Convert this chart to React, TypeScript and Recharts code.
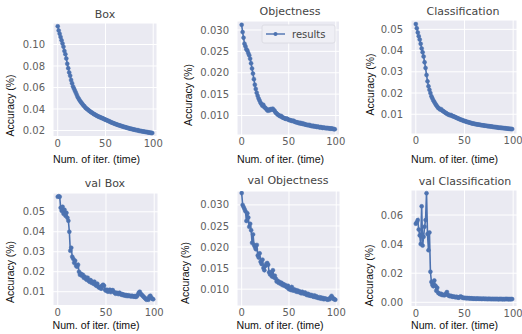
import React from 'react';
import { LineChart, Line, XAxis, YAxis, CartesianGrid } from 'recharts';

const epochs: number[] = Array.from({ length: 100 }, (_, i) => i);
const xTicks = [0, 50, 100];

const boxValues = [
  0.1170, 0.1130, 0.1100, 0.1070, 0.1040, 0.1010, 0.0980, 0.0940, 0.0910, 0.0870,
  0.0820, 0.0780, 0.0740, 0.0710, 0.0670, 0.0640, 0.0610, 0.0590, 0.0570, 0.0550,
  0.0530, 0.0510, 0.0495, 0.0480, 0.0468, 0.0455, 0.0445, 0.0432, 0.0425, 0.0412,
  0.0405, 0.0398, 0.0390, 0.0383, 0.0376, 0.0370, 0.0365, 0.0358, 0.0352, 0.0348,
  0.0342, 0.0338, 0.0332, 0.0328, 0.0325, 0.0320, 0.0316, 0.0314, 0.0308, 0.0305,
  0.0301, 0.0297, 0.0293, 0.0289, 0.0285, 0.0280, 0.0276, 0.0272, 0.0269, 0.0265,
  0.0262, 0.0258, 0.0255, 0.0252, 0.0249, 0.0246, 0.0244, 0.0240, 0.0238, 0.0235,
  0.0232, 0.0229, 0.0227, 0.0224, 0.0222, 0.0219, 0.0217, 0.0215, 0.0213, 0.0210,
  0.0208, 0.0206, 0.0204, 0.0202, 0.0203, 0.0197, 0.0196, 0.0195, 0.0193, 0.0191,
  0.0190, 0.0188, 0.0187, 0.0185, 0.0184, 0.0182, 0.0181, 0.0179, 0.0178, 0.0176,
];

const objectnessValues = [
  0.0312, 0.0295, 0.0282, 0.0268, 0.0262, 0.0255, 0.0252, 0.0246, 0.0241, 0.0233,
  0.0222, 0.0210, 0.0198, 0.0185, 0.0172, 0.0162, 0.0153, 0.0146, 0.0140, 0.0135,
  0.0130, 0.0127, 0.0123, 0.0125, 0.0120, 0.0118, 0.0116, 0.0113, 0.0111, 0.0114,
  0.0112, 0.0115, 0.0114, 0.0116, 0.0113, 0.0111, 0.0107, 0.0105, 0.0103, 0.0101,
  0.0100, 0.0098, 0.0099, 0.0096, 0.0095, 0.0094, 0.0093, 0.0092, 0.0093, 0.0091,
  0.0090, 0.0089, 0.0089, 0.0088, 0.0087, 0.0088, 0.0086, 0.0085, 0.0084, 0.0084,
  0.0083, 0.0082, 0.0083, 0.0081, 0.0082, 0.0080, 0.0081, 0.0079, 0.0079, 0.0078,
  0.0078, 0.0077, 0.0078, 0.0076, 0.0076, 0.0075, 0.0076, 0.0074, 0.0075, 0.0074,
  0.0073, 0.0074, 0.0073, 0.0072, 0.0073, 0.0072, 0.0071, 0.0072, 0.0071, 0.0071,
  0.0070, 0.0071, 0.0070, 0.0070, 0.0069, 0.0070, 0.0069, 0.0069, 0.0068, 0.0068,
];

const classificationValues = [
  0.0525, 0.0505, 0.0485, 0.0468, 0.0452, 0.0432, 0.0410, 0.0392, 0.0372, 0.0345,
  0.0318, 0.0285, 0.0255, 0.0232, 0.0215, 0.0200, 0.0185, 0.0175, 0.0165, 0.0158,
  0.0150, 0.0143, 0.0136, 0.0130, 0.0127, 0.0122, 0.0124, 0.0118, 0.0115, 0.0112,
  0.0108, 0.0106, 0.0102, 0.0100, 0.0098, 0.0095, 0.0097, 0.0093, 0.0091, 0.0089,
  0.0088, 0.0085, 0.0083, 0.0081, 0.0079, 0.0077, 0.0075, 0.0073, 0.0072, 0.0070,
  0.0068, 0.0067, 0.0065, 0.0064, 0.0062, 0.0061, 0.0060, 0.0058, 0.0057, 0.0056,
  0.0055, 0.0054, 0.0053, 0.0052, 0.0052, 0.0051, 0.0050, 0.0049, 0.0048, 0.0048,
  0.0047, 0.0046, 0.0046, 0.0045, 0.0044, 0.0044, 0.0043, 0.0042, 0.0042, 0.0041,
  0.0040, 0.0040, 0.0039, 0.0039, 0.0038, 0.0037, 0.0037, 0.0036, 0.0036, 0.0035,
  0.0035, 0.0034, 0.0034, 0.0033, 0.0033, 0.0032, 0.0032, 0.0031, 0.0031, 0.0030,
];

const valBoxValues = [
  0.0575, 0.0578, 0.0575, 0.0520, 0.0505, 0.0525, 0.0490, 0.0510, 0.0480, 0.0495,
  0.0470, 0.0455, 0.0400, 0.0305, 0.0320, 0.0275, 0.0265, 0.0245, 0.0255, 0.0230,
  0.0225, 0.0235, 0.0200, 0.0185, 0.0190, 0.0180, 0.0185, 0.0170, 0.0175, 0.0165,
  0.0160, 0.0170, 0.0155, 0.0150, 0.0158, 0.0145, 0.0150, 0.0140, 0.0150, 0.0135,
  0.0130, 0.0140, 0.0125, 0.0120, 0.0125, 0.0115, 0.0130, 0.0135, 0.0130, 0.0110,
  0.0105, 0.0110, 0.0100, 0.0105, 0.0110, 0.0098, 0.0105, 0.0108, 0.0100, 0.0095,
  0.0090, 0.0095, 0.0092, 0.0088, 0.0095, 0.0090, 0.0085, 0.0088, 0.0082, 0.0085,
  0.0080, 0.0083, 0.0078, 0.0082, 0.0078, 0.0080, 0.0076, 0.0080, 0.0077, 0.0075,
  0.0078, 0.0074, 0.0077, 0.0085, 0.0095, 0.0100, 0.0090, 0.0085, 0.0080, 0.0075,
  0.0070, 0.0065, 0.0060, 0.0065, 0.0060, 0.0075, 0.0080, 0.0070, 0.0065, 0.0062,
];

const valObjectnessValues = [
  0.0328, 0.0300, 0.0295, 0.0290, 0.0285, 0.0262, 0.0280, 0.0270, 0.0248, 0.0255,
  0.0240, 0.0210, 0.0230, 0.0205, 0.0200, 0.0195, 0.0205, 0.0180, 0.0175, 0.0185,
  0.0165, 0.0160, 0.0170, 0.0150, 0.0145, 0.0155, 0.0160, 0.0162, 0.0158, 0.0140,
  0.0135, 0.0140, 0.0130, 0.0145, 0.0128, 0.0132, 0.0125, 0.0118, 0.0120, 0.0115,
  0.0117, 0.0113, 0.0115, 0.0110, 0.0112, 0.0108, 0.0110, 0.0106, 0.0104, 0.0108,
  0.0100, 0.0103, 0.0098, 0.0105, 0.0097, 0.0100, 0.0096, 0.0098, 0.0094, 0.0097,
  0.0093, 0.0095, 0.0092, 0.0090, 0.0094, 0.0091, 0.0089, 0.0092, 0.0088, 0.0086,
  0.0089, 0.0085, 0.0087, 0.0084, 0.0086, 0.0083, 0.0082, 0.0085, 0.0081, 0.0083,
  0.0080, 0.0079, 0.0081, 0.0078, 0.0080, 0.0077, 0.0079, 0.0076, 0.0078, 0.0077,
  0.0076, 0.0075, 0.0077, 0.0076, 0.0080, 0.0084, 0.0080, 0.0077, 0.0076, 0.0075,
];

const valClassificationValues = [
  0.0540, 0.0550, 0.0565, 0.0500, 0.0460, 0.0400, 0.0660, 0.0390, 0.0450, 0.0520,
  0.0565, 0.0750, 0.0470, 0.0358, 0.0480, 0.0210, 0.0140, 0.0120, 0.0110, 0.0150,
  0.0115, 0.0080, 0.0100, 0.0065, 0.0060, 0.0055, 0.0058, 0.0050, 0.0052, 0.0048,
  0.0050, 0.0060, 0.0070, 0.0050, 0.0045, 0.0042, 0.0045, 0.0040, 0.0038, 0.0040,
  0.0036, 0.0035, 0.0038, 0.0033, 0.0032, 0.0035, 0.0040, 0.0036, 0.0032, 0.0030,
  0.0030, 0.0029, 0.0028, 0.0029, 0.0027, 0.0028, 0.0026, 0.0027, 0.0026, 0.0025,
  0.0026, 0.0025, 0.0024, 0.0026, 0.0025, 0.0024, 0.0025, 0.0024, 0.0023, 0.0025,
  0.0024, 0.0023, 0.0024, 0.0023, 0.0022, 0.0024, 0.0023, 0.0022, 0.0023, 0.0022,
  0.0023, 0.0022, 0.0022, 0.0023, 0.0022, 0.0021, 0.0022, 0.0023, 0.0022, 0.0021,
  0.0022, 0.0021, 0.0022, 0.0023, 0.0022, 0.0021, 0.0022, 0.0021, 0.0022, 0.0022,
];

const ticks2 = [0.02, 0.04, 0.06, 0.08, 0.1];
const ticks3 = [0.01, 0.015, 0.02, 0.025, 0.03];
const ticks1 = [0.01, 0.02, 0.03, 0.04, 0.05];
const ticks6 = [0, 0.02, 0.04, 0.06];

const titles = ['Box', 'Objectness', 'Classification', 'val Box', 'val Objectness', 'val Classification'];
const xLabel = 'Num. of iter. (time)';
const yLabel = 'Accuracy (%)';
const legendLabel = 'results';

const BLUE = '#4C72B0';

type Cfg = {
  values: number[];
  title: string;
  left: number; right: number; top: number; bottom: number;
  domain: [number, number];
  ticks: number[];
  digits: number;
  titleX: number; titleY: number;
  xlabY: number;
  ylabX: number; ylabY: number;
};

const panels: Cfg[] = [
  { values: boxValues, title: titles[0], left: 53, right: 157, top: 22.5, bottom: 136, domain: [0.0144, 0.12], ticks: ticks2, digits: 2, titleX: 105, titleY: 18, xlabY: 163, ylabX: 10, ylabY: 105.5 },
  { values: objectnessValues, title: titles[1], left: 237, right: 339.5, top: 20.5, bottom: 134.5, domain: [0.00544, 0.0321], ticks: ticks3, digits: 3, titleX: 290, titleY: 14.5, xlabY: 163, ylabX: 188, ylabY: 95 },
  { values: classificationValues, title: titles[2], left: 411, right: 517, top: 20, bottom: 134, domain: [0.0007, 0.0544], ticks: ticks1, digits: 2, titleX: 463, titleY: 14.5, xlabY: 163, ylabX: 370, ylabY: 84.5 },
  { values: valBoxValues, title: titles[3], left: 52.5, right: 157.5, top: 193, bottom: 305.5, domain: [0.0031, 0.0594], ticks: ticks1, digits: 2, titleX: 105, titleY: 187, xlabY: 329, ylabX: 10, ylabY: 272 },
  { values: valObjectnessValues, title: titles[4], left: 236.5, right: 339.5, top: 191, bottom: 306, domain: [0.006, 0.0333], ticks: ticks3, digits: 3, titleX: 288, titleY: 184, xlabY: 329, ylabX: 185, ylabY: 273 },
  { values: valClassificationValues, title: titles[5], left: 411, right: 517, top: 190, bottom: 306.5, domain: [-0.0029, 0.0772], ticks: ticks6, digits: 2, titleX: 465, titleY: 184.5, xlabY: 329, ylabX: 369, ylabY: 275.5 },
];

const tickStyle = { fontSize: 10, fill: '#606060', fontFamily: 'DejaVu Sans' };

function Panel({ cfg }: { cfg: Cfg }) {
  const yW = 50;
  const mt = 10;
  const mb = 24;
  const mr = 14;
  const w = cfg.right - cfg.left + yW + mr;
  const h = cfg.bottom - cfg.top + mt + mb;
  const data = epochs.map((x, i) => ({ x, y: cfg.values[i] }));
  return (
    <div style={{ position: 'absolute', left: cfg.left - yW, top: cfg.top - mt }}>
      <LineChart width={w} height={h} data={data} margin={{ top: mt, right: mr, bottom: 0, left: 0 }}>
        <CartesianGrid fill="#EAEAF2" stroke="#FFFFFF" strokeWidth={1} />
        <XAxis
          dataKey="x"
          type="number"
          domain={[-4.95, 103.95]}
          ticks={xTicks}
          allowDataOverflow
          tickLine={false}
          axisLine={false}
          height={mb}
          tickSize={2}
          tickMargin={1}
          interval={0}
          tick={tickStyle}
        />
        <YAxis
          type="number"
          domain={cfg.domain}
          ticks={cfg.ticks}
          allowDataOverflow
          width={yW}
          tickLine={false}
          axisLine={false}
          tickSize={6}
          tickMargin={2}
          interval={0}
          tick={tickStyle}
          tickFormatter={(v: number) => v.toFixed(cfg.digits)}
        />
        <Line
          dataKey="y"
          type="linear"
          stroke={BLUE}
          strokeWidth={1.6}
          dot={{ r: 2, fill: BLUE, stroke: BLUE, strokeWidth: 0.5 }}
          isAnimationActive={false}
        />
      </LineChart>
    </div>
  );
}

export default function App() {
  return (
    <div style={{ position: 'absolute', left: 0, top: 0, width: 522, height: 334, background: '#ffffff', overflow: 'hidden' }}>
      {panels.map((p, i) => (
        <Panel key={i} cfg={p} />
      ))}
      <svg width={522} height={334} style={{ position: 'absolute', left: 0, top: 0, pointerEvents: 'none' }}>
        {panels.map((p, i) => (
          <g key={i}>
            <text x={p.titleX} y={p.titleY} textAnchor="middle" fontFamily="DejaVu Sans" fontSize={11} fill="#444444">
              {p.title}
            </text>
            <text x={p.left} y={p.xlabY} textAnchor="start" fontFamily="Liberation Sans" fontSize={10.6} fill="#111111">
              {xLabel}
            </text>
            <text
              x={p.ylabX}
              y={p.ylabY}
              textAnchor="middle"
              dominantBaseline="central"
              fontFamily="Liberation Sans"
              fontSize={10.4}
              fill="#111111"
              transform={`rotate(-90 ${p.ylabX} ${p.ylabY})`}
            >
              {yLabel}
            </text>
          </g>
        ))}
        <g>
          <rect x={262} y={25} width={73} height={18} rx={2} fill="#EFEFF5" stroke="#D8D8E0" strokeWidth={0.8} />
          <line x1={266} y1={34} x2={285} y2={34} stroke={BLUE} strokeWidth={1.4} />
          <circle cx={275.5} cy={34} r={2} fill={BLUE} />
          <text x={292} y={37.5} fontFamily="DejaVu Sans" fontSize={10} fill="#444444">
            {legendLabel}
          </text>
        </g>
      </svg>
    </div>
  );
}
